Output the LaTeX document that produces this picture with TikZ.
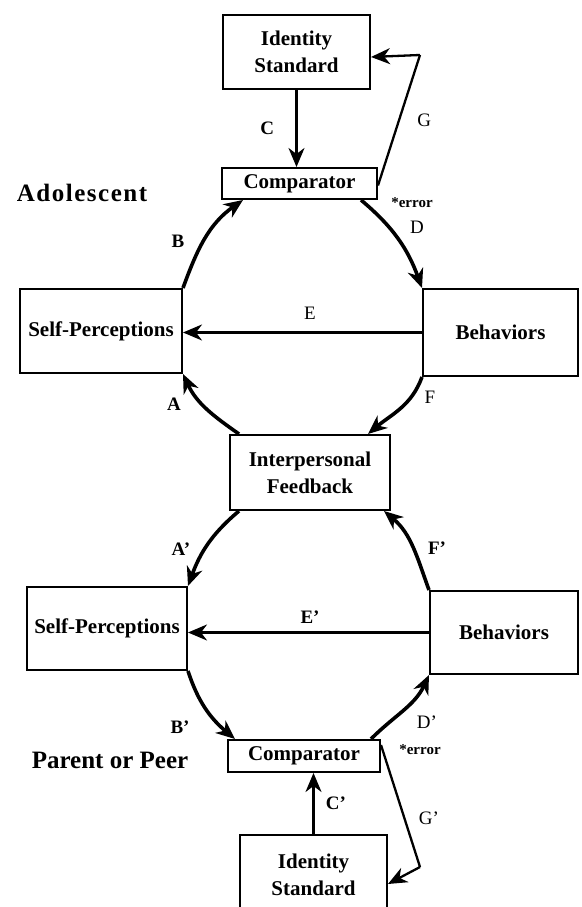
\documentclass[tikz,border=0pt]{standalone}
\usepackage{fontspec}
\setmainfont{Liberation Serif}
\usetikzlibrary{arrows.meta,positioning}

\begin{document}
\begin{tikzpicture}[x=1pt,y=1pt,
    every node/.style={font=\bfseries\fontsize{21}{27}\selectfont},
    box/.style={draw,line width=2pt,inner sep=0pt,align=center},
    loopedge/.style={line width=3.6pt,-{Stealth[length=19pt,width=16pt,inset=6pt]}},
    link/.style={line width=2.3pt,-{Stealth[length=19pt,width=16pt,inset=6pt]}},
    lbl/.style={font=\bfseries\fontsize{19}{20}\selectfont},
    plain/.style={font=\fontsize{19}{20}\selectfont},
    errlbl/.style={font=\bfseries\fontsize{15}{16}\selectfont}
    ]
    \useasboundingbox (0,0) rectangle (581,907);

    % adolescent loop
    \node (id1) [box,minimum width=147,minimum height=74] at (296.5,855) {Identity\\Standard};
    \node (cmp1) [box,minimum width=155,minimum height=31] at (299.5,723.5) {Comparator};
    \node (sp1) [box,minimum width=162,minimum height=84] at (101,576) {Self-Perceptions};
    \node (beh1) [box,minimum width=155,minimum height=87] at (500.5,574.5) {Behaviors};
    \node (fb) [box,minimum width=160,minimum height=75] at (310,434.5) {Interpersonal\\Feedback};

    % parent or peer loop
    \node (sp2) [box,minimum width=160,minimum height=83] at (107,278.5) {Self-Perceptions};
    \node (beh2) [box,minimum width=148,minimum height=83] at (504,274.5) {Behaviors};
    \node (cmp2) [box,minimum width=152,minimum height=32] at (304,151) {Comparator};
    \node (id2) [box,minimum width=147,minimum height=80] at (313.5,32) {Identity\\Standard};

    \node (adol) [font=\bfseries\fontsize{25}{26}\selectfont\addfontfeature{LetterSpace=6}] at (82,714) {Adolescent};
    \node (peer) [font=\bfseries\fontsize{25}{26}\selectfont] at (110,147) {Parent or Peer};

    \coordinate (g1) at (420,852);
    \coordinate (g2) at (420,40);

    % the edges
    \draw[link] (id1.south) -- (id1.south |- cmp1.north) node[lbl,midway,left=18pt] {C};
    \draw[line width=2.3pt] ([yshift=-2]cmp1.east) -- (g1) node[plain,pos=0.5,right=14pt] {G};
    \draw[link] (g1) -- ([yshift=-5]id1.east);
    \draw[loopedge] (sp1.north east) to[out=70,in=-145] ([xshift=22]cmp1.south west);
    \draw[loopedge] ([xshift=-17]cmp1.south east) to[out=-40,in=110] (beh1.north west);
    \draw[link] (beh1.west) -- (beh1.west -| sp1.east);
    \draw[loopedge] ([xshift=10]fb.north west) to[out=145,in=-65] (sp1.south east);
    \draw[loopedge] (beh1.south west) to[out=-110,in=40] ([xshift=-23]fb.north east);

    \draw[loopedge] ([xshift=10]fb.south west) to[out=-140,in=70] (sp2.north east);
    \draw[loopedge] (beh2.north west) to[out=110,in=-40] ([xshift=-7]fb.south east);
    \draw[link] (beh2.west) -- (beh2.west -| sp2.east);
    \draw[loopedge] (sp2.south east) to[out=-72,in=140] ([xshift=8]cmp2.north west);
    \draw[loopedge] ([xshift=-10]cmp2.north east) to[out=45,in=-115] (beh2.south west);
    \draw[link] (id2.north) -- (id2.north |- cmp2.south) node[lbl,midway,right=8pt] {C'};
    \draw[line width=2.3pt] ([yshift=11]cmp2.east) -- (g2) node[plain,pos=0.6,right=10pt] {G'};
    \draw[link] (g2) -- ([yshift=-9]id2.east);

    % arc labels
    \node (lb) [lbl] at (178,666) {B};
    \node (ld) [plain] at (417,680) {D};
    \node (le) [plain] at (310,594) {E};
    \node (la) [lbl] at (174,503) {A};
    \node (lf) [plain] at (430,510) {F};
    \node (la2) [lbl] at (181,358) {A'};
    \node (lf2) [lbl] at (437,359) {F'};
    \node (le2) [lbl] at (310,290) {E'};
    \node (lb2) [lbl] at (180,180) {B'};
    \node (ld2) [plain] at (427,185) {D'};
    \node (err1) [errlbl] at (412,704) {*error};
    \node (err2) [errlbl] at (420,157) {*error};
\end{tikzpicture}
\end{document}
